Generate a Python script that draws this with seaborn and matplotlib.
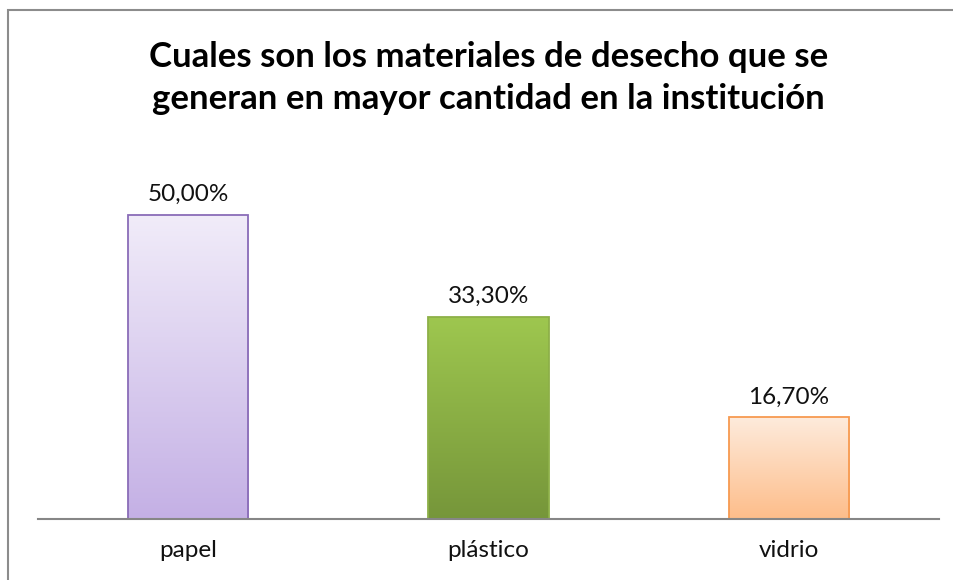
import numpy as np
import pandas as pd
import matplotlib
matplotlib.use("Agg")
import matplotlib.pyplot as plt
import seaborn as sns
from matplotlib.colors import LinearSegmentedColormap
from matplotlib.patches import Rectangle

# Data
categories = ["papel", "plástico", "vidrio"]
values = [0.500, 0.333, 0.167]
value_labels = ["50,00%", "33,30%", "16,70%"]

# gradient colours (top, bottom, edge) per bar
top_colors = ["#F1ECF9", "#9EC74F", "#FEEBDC"]
bottom_colors = ["#C4B0E5", "#76963A", "#FDBD8A"]
edge_colors = ["#8A6CB8", "#8DB048", "#F79A50"]

sns.set_style("white")
plt.rcParams["font.family"] = ["Lato", "DejaVu Sans"]

W, H = 954, 580
fig = plt.figure(figsize=(W / 100, H / 100), dpi=100)

# plot area in pixels: x 38..939, baseline at y=519
ymax = 0.6
px_per_unit = 608
ax_left, ax_right, base = 38, 939, 519
ax_h = ymax * px_per_unit
ax = fig.add_axes([ax_left / W, (H - base) / H, (ax_right - ax_left) / W, ax_h / H])

df = pd.DataFrame({"material": categories, "pct": values})
sns.barplot(data=df, x="material", y="pct", ax=ax, width=0.4, color="white")

# paint vertical gradients inside each bar
for i, patch in enumerate(ax.patches):
    x, y = patch.get_x(), patch.get_y()
    w, h = patch.get_width(), patch.get_height()
    cmap = LinearSegmentedColormap.from_list("g", [bottom_colors[i], top_colors[i]])
    grad = np.linspace(0, 1, 256).reshape(-1, 1)
    img = ax.imshow(grad, extent=[x, x + w, y, y + h], origin="lower",
                    aspect="auto", cmap=cmap, zorder=2)
    img.set_clip_path(patch)
    patch.set_facecolor("none")
    patch.set_edgecolor(edge_colors[i])
    patch.set_linewidth(1.3)
    patch.set_zorder(3)

ax.set_xlim(-0.5, len(categories) - 0.5)
ax.set_ylim(0, ymax)

ax.bar_label(ax.containers[0], labels=value_labels, padding=7,
             fontsize=17.5, color="#111111")

ax.set_xlabel("")
ax.set_ylabel("")
ax.set_yticks([])
ax.tick_params(axis="x", length=0, pad=15, labelsize=17.5, labelcolor="#111111")
for side in ["top", "right", "left"]:
    ax.spines[side].set_visible(False)
ax.spines["bottom"].set_color("#868686")
ax.spines["bottom"].set_linewidth(1.5)
ax.spines["bottom"].set_zorder(4)

# title
fig.text((ax_left + ax_right) / 2 / W, 1 - 109 / H,
         "Cuales son los materiales de desecho que se\ngeneran en mayor cantidad en la institución",
         ha="center", va="baseline", fontsize=25, fontweight="bold",
         linespacing=1.38, color="black")

# chart frame (left and top edges visible)
fig.patches.append(Rectangle((8 / W, -0.1), 1.2, 1 - 10 / H + 0.1,
                             transform=fig.transFigure, fill=False,
                             edgecolor="#8c8c8c", linewidth=1.5))

fig.savefig("out.png", dpi=100)
